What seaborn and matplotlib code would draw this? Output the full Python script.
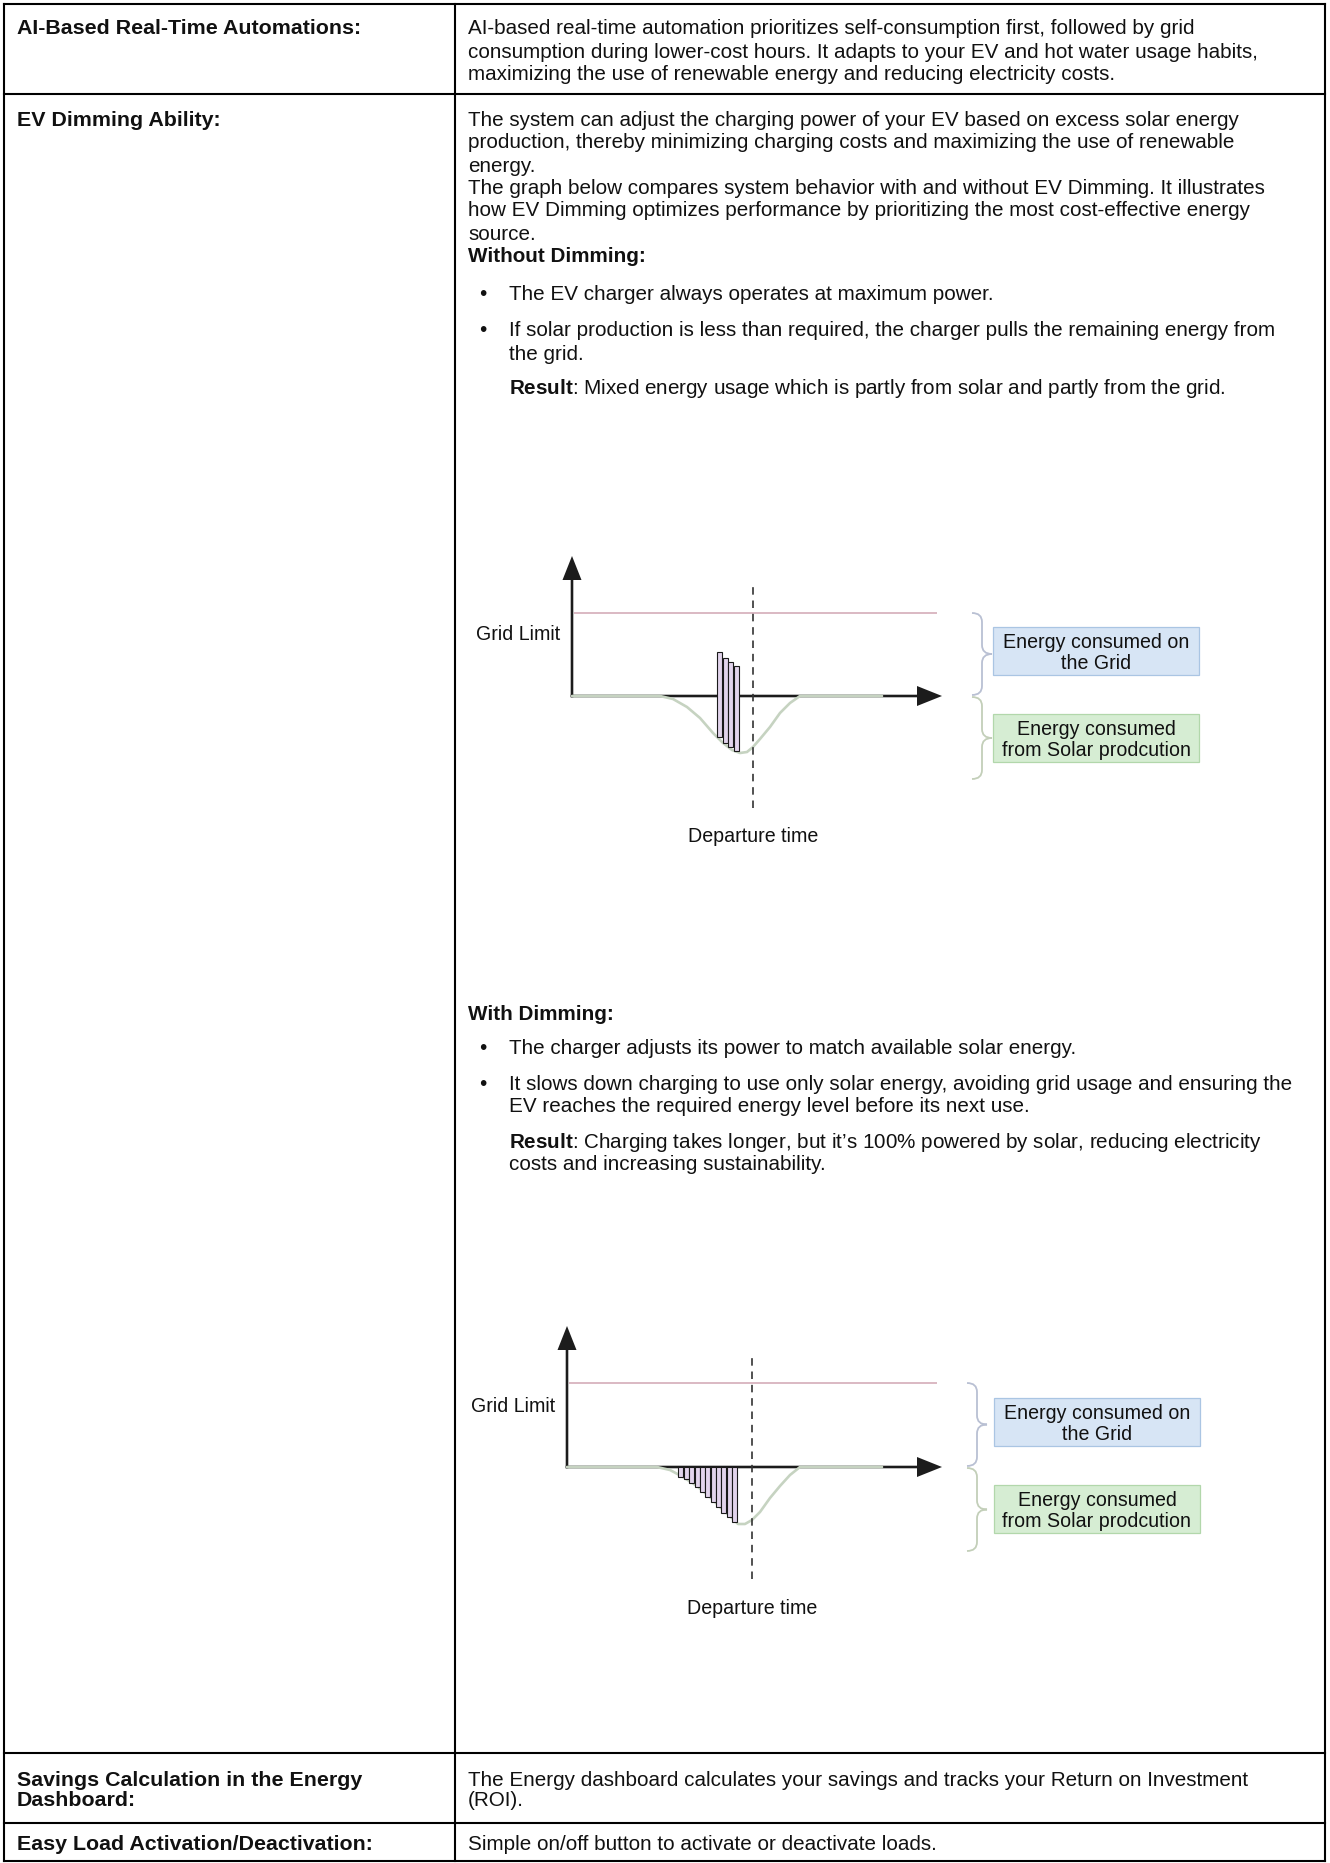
import matplotlib.pyplot as plt
from matplotlib.patches import Rectangle, PathPatch
from matplotlib.path import Path
import seaborn as sns

# --- values (units = pixels from each diagram origin) ---
# Without dimming
solar_t_1 = [0, 88, 101, 115, 128, 141, 151, 160, 168, 175, 181, 188, 198, 208, 218, 228, 310]
solar_p_1 = [0, 0, -3, -11, -22, -37, -47, -54, -57, -56, -51, -43, -31, -17, -7, 0, 0]
bar_t_1 = [145, 150.5, 156, 161.5]
bar_top_1 = [44, 38, 34, 30]
bar_bottom_1 = [-41, -47, -51, -55]
grid_limit_1 = 83
departure_1 = 181

# With dimming
solar_t_2 = [0, 90, 103, 116, 130, 143, 156, 165, 171, 178, 185, 193, 203, 213, 223, 233, 315]
solar_p_2 = [0, 0, -3, -10, -19, -30, -43, -51, -57, -57, -53, -45, -31, -19, -8, 0, 0]
bar_t_2 = [111, 116.5, 122, 127.5, 132.5, 138, 143.5, 148.5, 154, 159.5, 164.5]
bar_top_2 = [0, 0, 0, 0, 0, 0, 0, 0, 0, 0, 0]
bar_bottom_2 = [-10, -12, -16, -20, -25, -30, -35, -40, -46, -50, -55]
grid_limit_2 = 84
departure_2 = 185

# --- texts ---
row_labels = ["AI-Based Real-Time Automations:", "EV Dimming Ability:",
              "Savings Calculation in the Energy", "Dashboard:",
              "Easy Load Activation/Deactivation:"]
ai_lines = ["AI-based real-time automation prioritizes self-consumption first, followed by grid",
            "consumption during lower-cost hours. It adapts to your EV and hot water usage habits,",
            "maximizing the use of renewable energy and reducing electricity costs."]
ev_lines = ["The system can adjust the charging power of your EV based on excess solar energy",
            "production, thereby minimizing charging costs and maximizing the use of renewable",
            "energy.",
            "The graph below compares system behavior with and without EV Dimming. It illustrates",
            "how EV Dimming optimizes performance by prioritizing the most cost-effective energy",
            "source."]
without_bullets = ["The EV charger always operates at maximum power.",
                   "If solar production is less than required, the charger pulls the remaining energy from",
                   "the grid."]
without_result = ": Mixed energy usage which is partly from solar and partly from the grid."
with_bullets = ["The charger adjusts its power to match available solar energy.",
                "It slows down charging to use only solar energy, avoiding grid usage and ensuring the",
                "EV reaches the required energy level before its next use."]
with_result = [": Charging takes longer, but it\u2019s 100% powered by solar, reducing electricity",
               "costs and increasing sustainability."]
savings_lines = ["The Energy dashboard calculates your savings and tracks your Return on Investment", "(ROI)."]
easy_line = "Simple on/off button to activate or deactivate loads."
box_grid = "Energy consumed on\nthe Grid"
box_solar = "Energy consumed\nfrom Solar prodcution"

sns.set_theme(style="white")
plt.rcParams['font.family'] = ['Liberation Sans', 'DejaVu Sans']
plt.rcParams['mathtext.fontset'] = 'custom'
plt.rcParams['mathtext.rm'] = 'Liberation Sans'
plt.rcParams['mathtext.bf'] = 'Liberation Sans:bold'

W, H = 1330, 1863
FS = 14.9      # body text
FSB = 15.4     # bold row labels
FSD = 14.1     # diagram labels
DY = 3         # va='center' sits a bit high, push texts down
fig = plt.figure(figsize=(W / 100, H / 100), dpi=100)
page = fig.add_axes([0, 0, 1, 1])
page.set_xlim(0, W)
page.set_ylim(H, 0)
page.axis('off')

# table grid
lw_tab = 1.5
for x in [4, 455, 1325]:
    page.plot([x, x], [4, 1861], color='black', lw=lw_tab, solid_capstyle='projecting')
for y in [4, 94, 1753, 1823, 1861]:
    page.plot([4, 1325], [y, y], color='black', lw=lw_tab, solid_capstyle='projecting')

LX, RX, BX, BT = 17, 468, 479, 509


def put(x, y, s, bold=False, size=None):
    page.text(x, y + DY, s, fontsize=size or (FSB if bold else FS), va='center', ha='left',
              fontweight='bold' if bold else 'normal', color='#111111')


# row 1
put(LX, 26, row_labels[0], bold=True)
for y, s in zip([26, 49, 71], ai_lines):
    put(RX, y, s)

# row 2
put(LX, 118, row_labels[1], bold=True)
for y, s in zip([118, 140, 163, 185, 208, 231], ev_lines):
    put(RX, y, s)
put(RX, 253, "Without Dimming:", bold=True, size=FS)
put(BX, 292, "\u2022")
put(BT, 292, without_bullets[0])
put(BX, 328, "\u2022")
put(BT, 328, without_bullets[1])
put(BT, 351, without_bullets[2])
put(BT, 386, r"$\mathbf{Result}$" + without_result)

put(RX, 1012, "With Dimming:", bold=True, size=FS)
put(BX, 1046, "\u2022")
put(BT, 1046, with_bullets[0])
put(BX, 1082, "\u2022")
put(BT, 1082, with_bullets[1])
put(BT, 1104, with_bullets[2])
put(BT, 1140, r"$\mathbf{Result}$" + with_result[0])
put(BT, 1162, with_result[1])

# rows 3 and 4
put(LX, 1777, row_labels[2], bold=True)
put(LX, 1798, row_labels[3], bold=True)
put(RX, 1777, savings_lines[0])
put(RX, 1798, savings_lines[1])
put(LX, 1842, row_labels[4], bold=True)
put(RX, 1842, easy_line)


def brace(ax, x0, yt, yb, color):
    ym = (yt + yb) / 2
    r = 9
    verts = [(x0, yt), (x0 + 10, yt), (x0 + 10, yt - r),
             (x0 + 10, ym + r),
             (x0 + 10, ym), (x0 + 20, ym),
             (x0 + 10, ym), (x0 + 10, ym - r),
             (x0 + 10, yb + r),
             (x0 + 10, yb), (x0, yb)]
    codes = [Path.MOVETO, Path.CURVE3, Path.CURVE3, Path.LINETO,
             Path.CURVE3, Path.CURVE3, Path.CURVE3, Path.CURVE3,
             Path.LINETO, Path.CURVE3, Path.CURVE3]
    ax.add_patch(PathPatch(Path(verts, codes), fill=False, edgecolor=color, lw=1.3))


def diagram(origin, t, p, bt, btop, bbot, glim, dep, xtip, ytip, bx):
    ox, oy = origin
    x0, x1, y0, y1 = ox - 32, ox + 643, oy - 151, oy + 155
    ax = fig.add_axes([x0 / W, 1 - y1 / H, (x1 - x0) / W, (y1 - y0) / H])
    ax.set_xlim(-32, 643)
    ax.set_ylim(-155, 151)
    ax.axis('off')

    # axes arrows
    ax.arrow(0, -1.3, 0, ytip + 1.3, width=2.6, head_width=19, head_length=24,
             length_includes_head=True, fc='#1c1c1c', ec='none', zorder=1)
    ax.arrow(-1.3, 0, xtip + 1.3, 0, width=2.6, head_width=20, head_length=25,
             length_includes_head=True, fc='#1c1c1c', ec='none', zorder=1)

    # grid limit and solar production
    ax.hlines(glim, 1.5, xtip - 5, color='#dbb9c3', lw=1.4, zorder=2)
    sns.lineplot(x=t, y=p, ax=ax, color='#c6d3c1', lw=1.9, sort=False,
                 estimator=None, zorder=2)

    # EV charging power
    heights = [a - b for a, b in zip(btop, bbot)]
    ax.bar(bt, heights, bottom=bbot, width=5.4, align='edge', color='#e2d4ec',
           edgecolor='#1a1a1a', linewidth=0.8, zorder=3)

    ax.vlines(dep, -112, 112, color='#333333', lw=1.2, linestyles=(0, (4.5, 3.5)), zorder=4)
    ax.text(dep, -141, "Departure time", fontsize=FSD, ha='center', va='center', color='#111111')
    ax.text(-12, 61, "Grid Limit", fontsize=FSD, ha='right', va='center', color='#111111')

    brace(ax, 400, glim, 1, '#b9c0d3')
    brace(ax, 400, -1, -glim, '#c3cfb9')

    ax.add_patch(Rectangle((bx, 21), 206, 48, facecolor='#d7e5f5', edgecolor='#aac5e3', lw=0.9))
    ax.add_patch(Rectangle((bx, -66), 206, 48, facecolor='#d6edd3', edgecolor='#b2d7ab', lw=0.9))
    ax.text(bx + 103, 43, box_grid, fontsize=FSD, ha='center', va='center',
            linespacing=1.12, color='#111111')
    ax.text(bx + 103, -44, box_solar, fontsize=FSD, ha='center', va='center',
            linespacing=1.12, color='#111111')


diagram((572, 696), solar_t_1, solar_p_1, bar_t_1, bar_top_1, bar_bottom_1,
        grid_limit_1, departure_1, 370, 140, 421)
diagram((567, 1467), solar_t_2, solar_p_2, bar_t_2, bar_top_2, bar_bottom_2,
        grid_limit_2, departure_2, 375, 141, 427)

fig.savefig('out.png', dpi=100)
